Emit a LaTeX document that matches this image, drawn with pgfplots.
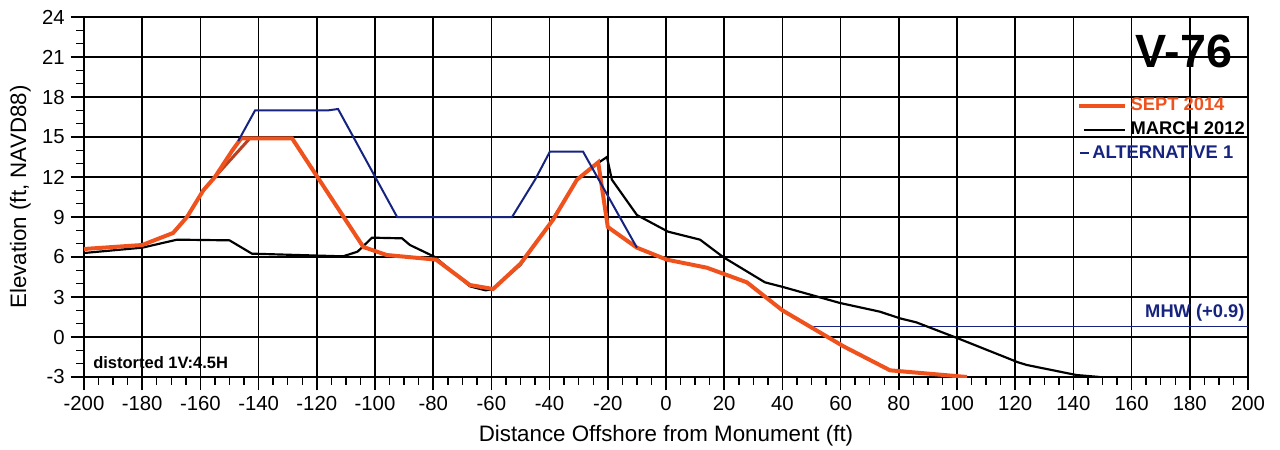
\documentclass[border=0pt]{standalone}
\usepackage{pgfplots}
\pgfplotsset{compat=1.18}
\usepackage{fontspec}
\setmainfont{Liberation Sans}
\definecolor{sept}{RGB}{240,82,30}
\definecolor{brownish}{RGB}{185,65,35}
\definecolor{alt}{RGB}{22,36,128}
\pgfplotsset{
  legline/.style 2 args={legend image code/.code={\draw[##1] (#1,0pt) -- (#2,0pt);}}
}
\begin{document}
\begin{tikzpicture}
\useasboundingbox (-50.4pt,-43.8pt) rectangle (717.6pt,226.2pt);
\begin{axis}[
  scale only axis, width=698.4pt, height=216pt,
  xmin=-200, xmax=200, ymin=-3, ymax=24,
  xtick distance=20, ytick distance=3,
  minor x tick num=3, minor y tick num=2,
  grid=major, major grid style={black, line width=1pt},
  axis line style={black, line width=1pt},
  tick style={black, line width=0.9pt},
  tick align=outside, xtick pos=lower, ytick pos=left,
  major tick length=8pt, minor tick length=4.5pt,
  /pgf/number format/assume math mode=true,
  ticklabel style={font=\fontsize{12.2}{14}\selectfont},
  xlabel={Distance Offshore from Monument (ft)},
  ylabel={Elevation (ft, NAVD88)},
  xlabel style={yshift=-2pt},
  label style={font=\fontsize{13.4}{15}\selectfont},
  legend style={draw=none, fill=none, at={(axis cs:141,18.2)}, anchor=north west,
    font=\bfseries\fontsize{11}{12}\selectfont, row sep=1.2pt, inner sep=0pt},
  legend cell align=left,
]
\addlegendimage{sept, line width=2.4pt, legline={0pt}{28pt}}
\addlegendentry{\textcolor{sept}{SEPT 2014}}
\addlegendimage{black, line width=1.2pt, legline={3pt}{28pt}}
\addlegendentry{\textcolor{black}{MARCH 2012}}
\addlegendimage{alt, line width=1.2pt, legline={1pt}{6pt}}
\addlegendentry{\hspace*{-23pt}\textcolor{alt}{ALTERNATIVE 1}}

% MHW
\addplot[alt, line width=0.8pt, forget plot] coordinates {(50,0.8) (200,0.8)};

% MARCH 2012
\addplot[black, line width=1.3pt, forget plot] coordinates {
(-200,6.3) (-180,6.7) (-168,7.3) (-150,7.25) (-142.3,6.25) (-111,6.05) (-106,6.4)
(-101,7.45) (-90.7,7.4) (-88,6.9) (-79.4,6.0) (-67.4,3.8) (-62,3.5) (-59.4,3.6)
(-50,5.4) (-40,8.5) (-30.5,11.8) (-23,13.1) (-20.3,13.5) (-18.6,11.8) (-10,9.15)
(0.7,7.9) (11.7,7.3) (19.6,6.0) (34,4.1) (40.2,3.75) (59.8,2.55) (73.5,1.9)
(80.4,1.4) (86,1.1) (100.3,-0.1) (121,-1.9) (124,-2.1) (141,-2.85) (149,-3.0)};

% brownish earlier segment
\addplot[brownish, line width=1.8pt, forget plot] coordinates {(-155,12.0) (-143,14.9)};

% SEPT 2014
\addplot[sept, line width=2.4pt, forget plot] coordinates {
(-200,6.6) (-180,6.9) (-169.4,7.8) (-164.6,9.0) (-159,11.0) (-155,12.0) (-149,14.0)
(-146,14.9) (-128.5,14.9) (-104,6.75) (-96,6.15) (-79,5.8) (-67.4,3.9) (-59.4,3.6)
(-50,5.5) (-38.8,8.8) (-30.6,11.8) (-23.3,13.1) (-20,8.25) (-10,6.7) (0.3,5.8)
(14,5.2) (27.8,4.1) (40,2.0) (61,-0.7) (77,-2.5) (103.4,-3.0)};

% ALTERNATIVE 1
\addplot[alt, line width=1.2pt, forget plot] coordinates {
(-147,14.7) (-141.2,17.0) (-116,17.0) (-112.7,17.1) (-92.4,9.0) (-52.9,9.0)
(-45,11.8) (-39.9,13.9) (-28.5,13.9) (-10,6.7)};

\node[font=\bfseries\fontsize{28}{30}\selectfont] at (axis cs:178,21.4) {V-76};
\node[anchor=east, text=alt, font=\bfseries\fontsize{11}{12}\selectfont, inner sep=1pt] at (axis cs:199.5,1.8) {MHW (+0.9)};
\node[anchor=west, font=\bfseries\fontsize{9.9}{11}\selectfont, inner sep=1pt] at (axis cs:-197.5,-1.9) {distorted 1V:4.5H};
\end{axis}
\end{tikzpicture}
\end{document}
